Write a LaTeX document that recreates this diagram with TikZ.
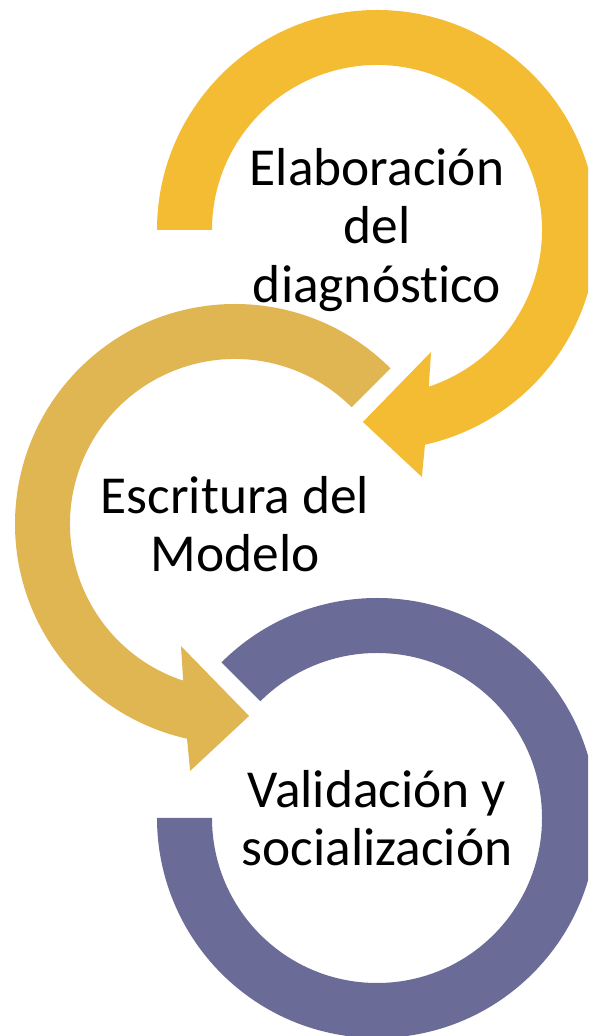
\documentclass[tikz,border=0pt]{standalone}
\usepackage{fontspec}
\setmainfont[Ligatures=NoCommon]{Carlito}
\definecolor{stepgold}{HTML}{F4BC33}
\definecolor{steptan}{HTML}{E0B653}
\definecolor{steppurple}{HTML}{6B6B98}
\tikzset{
  steplabel/.style={align=center, text=black, font=\fontsize{30.4}{33.3}\selectfont},
}
\begin{document}
\begin{tikzpicture}[x=0.2mm,y=0.2mm]
  \useasboundingbox (0,0) rectangle (588,1036);
  \clip (0,0) rectangle (588,1036);
  % first ring, arrow points down-left
  \begin{scope}[shift={(377,806)}]
    \fill[stepgold]
      (180:220)
      arc[start angle=180, end angle=-77.4, radius=44mm]
      --
      (-79.7:251)
      --
      (-94.2:192.5)
      --
      (-66.1:133.4)
      --
      (-71.7:165)
      arc[start angle=-71.7, end angle=180, radius=33mm]
      --
      cycle;
  \end{scope}
  % second ring, arrow points down-right
  \begin{scope}[shift={(235,512)}]
    \fill[steptan]
      (45:220)
      arc[start angle=45, end angle=257.4, radius=44mm]
      --
      (259.7:251)
      --
      (274.2:192.5)
      --
      (246.1:133.4)
      --
      (251.7:165)
      arc[start angle=251.7, end angle=45, radius=33mm]
      --
      cycle;
  \end{scope}
  % third ring, no arrow
  \begin{scope}[shift={(377,218)}]
    \fill[steppurple]
      (135:220)
      arc[start angle=135, end angle=-180, radius=44mm]
      --
      (-180:165)
      arc[start angle=-180, end angle=135, radius=33mm]
      --
      cycle;
  \end{scope}
  \node[steplabel] (elab) at (377,806) {Elaboración\\del\\diagnóstico};
  \node[steplabel] (escr) at (235,512) {Escritura del\\Modelo};
  \node[steplabel] (valid) at (377,218) {Validación y\\socialización};
\end{tikzpicture}
\end{document}
